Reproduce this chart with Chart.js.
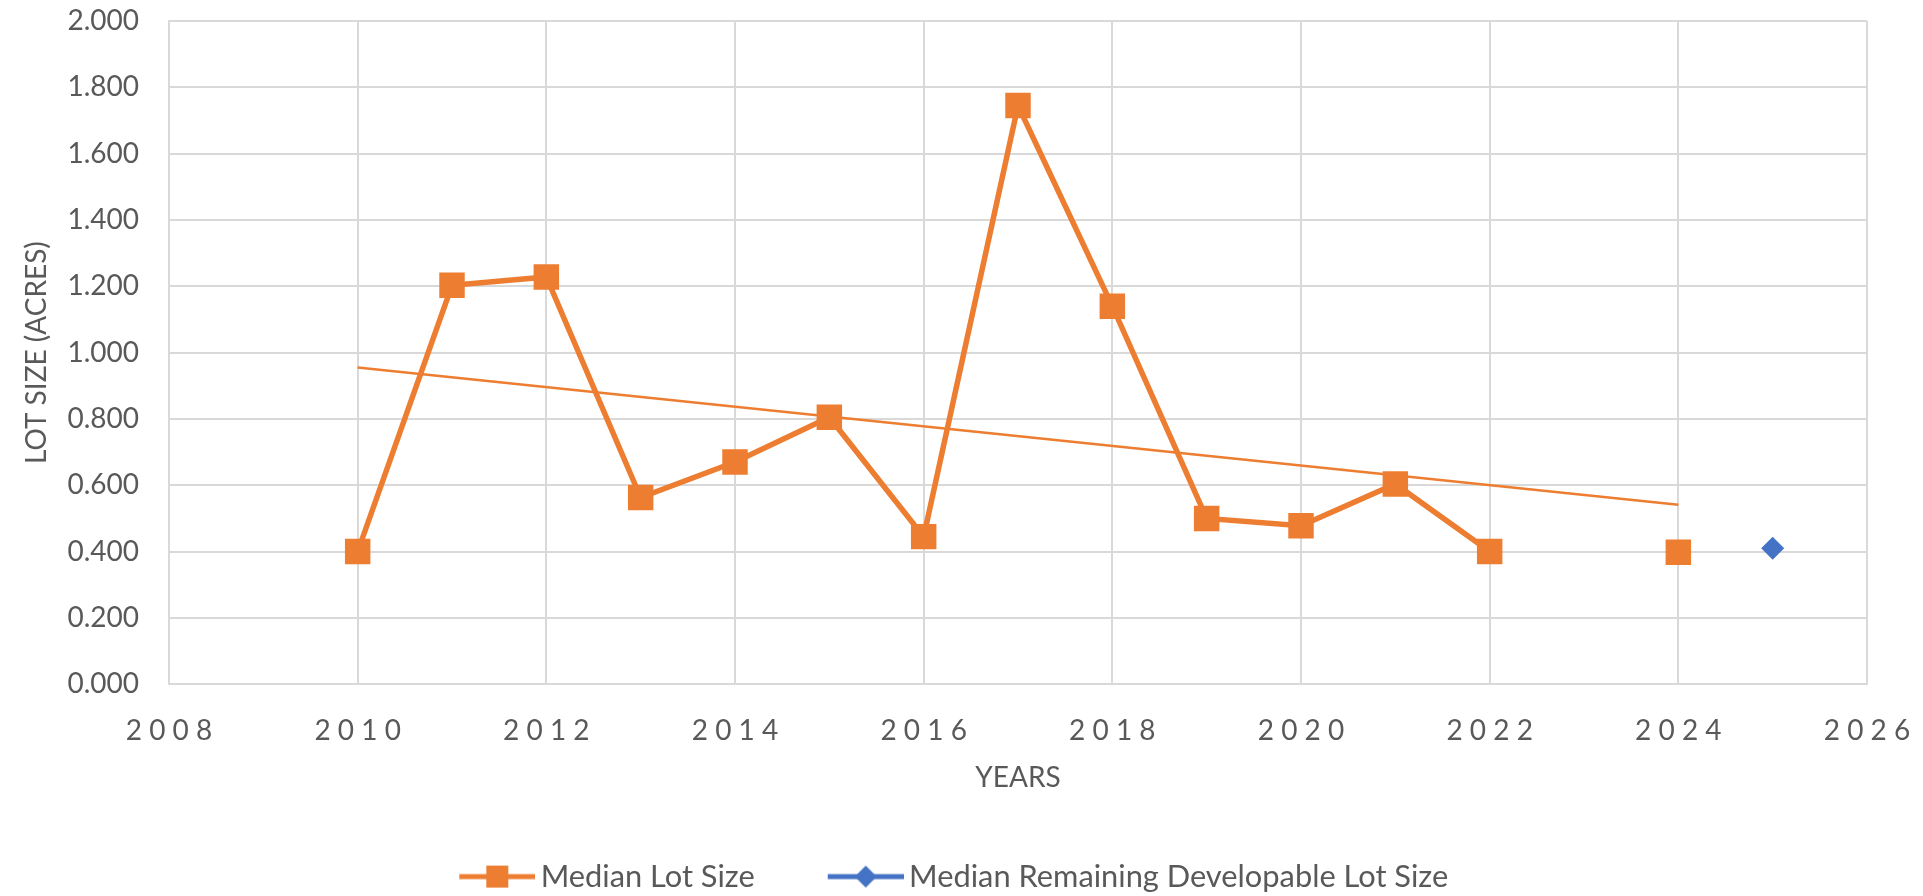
<!DOCTYPE html>
<html>
<head>
<meta charset="utf-8">
<script src="https://cdn.jsdelivr.net/npm/chart.js@4.4.1/dist/chart.umd.min.js"></script>
<style>
  html, body { margin: 0; padding: 0; background: #fff; }
  #wrap { width: 1923px; height: 896px; }
</style>
</head>
<body>
<div id="wrap"><canvas id="chart-lots"></canvas></div>
<script>
const years = [2010, 2011, 2012, 2013, 2014, 2015, 2016, 2017, 2018, 2019, 2020, 2021, 2022, 2023, 2024];
const lotSize = [0.400, 1.203, 1.228, 0.563, 0.670, 0.805, 0.445, 1.745, 1.140, 0.500, 0.478, 0.604, 0.400, null, 0.398];

const remainingYears = [2025];
const remainingLotSize = [0.410];

// trendline end points
const trendYears = [2010, 2024];
const trendValues = [0.955, 0.541];

const xTicks = { min: 2008, max: 2026, step: 2 };
const yTicks = { min: 0, max: 2, step: 0.2 };

const orange = '#ED7D31';
const blue = '#4472C4';
const grey = '#595959';
const gridGrey = '#D9D9D9';
const fontName = 'Lato, "Liberation Sans", sans-serif';

const toPoints = (xs, ys) => xs.map((x, i) => ({ x: x, y: ys[i] }));

// legend icons: line with a marker on it (drawn to the right of a wide, mostly empty box)
const iconBox = 138;
function legendIcon(color, shape) {
    const c = document.createElement('canvas');
    c.width = iconBox + 20;
    c.height = 30;
    const ctx = c.getContext('2d');
    ctx.strokeStyle = color;
    ctx.fillStyle = color;
    ctx.lineWidth = 5;
    ctx.beginPath();
    ctx.moveTo(c.width - 76, 15);
    ctx.lineTo(c.width, 15);
    ctx.stroke();
    const cx = c.width - 38;
    ctx.beginPath();
    if (shape === 'square') {
        ctx.rect(cx - 11, 4, 22, 22);
    } else {
        ctx.moveTo(cx, 4);
        ctx.lineTo(cx + 11, 15);
        ctx.lineTo(cx, 26);
        ctx.lineTo(cx - 11, 15);
        ctx.closePath();
    }
    ctx.fill();
    return c;
}

const icons = [legendIcon(orange, 'square'), legendIcon(blue, 'diamond')];
// extra room after the last legend entry keeps the row centred like the original
const legendTail = ['', '    '];

const data = {
    datasets: [{
        label: 'Median Lot Size',
        data: toPoints(years, lotSize),
        borderColor: orange,
        backgroundColor: orange,
        borderWidth: 5.5,
        pointStyle: 'rect',
        pointRadius: 18,
        pointBorderWidth: 0,
        spanGaps: false,
        order: 1
    }, {
        label: 'Median Remaining Developable Lot Size',
        data: toPoints(remainingYears, remainingLotSize),
        borderColor: blue,
        backgroundColor: blue,
        borderWidth: 5,
        pointStyle: 'rectRot',
        pointRadius: 11.5,
        pointBorderWidth: 0,
        showLine: false,
        order: 0
    }, {
        label: 'trend',
        data: toPoints(trendYears, trendValues),
        borderColor: orange,
        borderWidth: 2.5,
        pointRadius: 0,
        order: 2
    }]
};

const config = {
    type: 'line',
    data: data,
    options: {
        responsive: true,
        maintainAspectRatio: false,
        animation: false,
        layout: { padding: { top: 21, right: 56, bottom: -6, left: 0 } },
        plugins: {
            tooltip: { enabled: false },
            legend: {
                position: 'bottom',
                labels: {
                    usePointStyle: true,
                    pointStyleWidth: iconBox,
                    padding: 1,
                    color: grey,
                    font: { family: fontName, size: 30.8 },
                    generateLabels: (chart) => chart.data.datasets.slice(0, 2).map((ds, i) => ({
                        text: ds.label + legendTail[i],
                        pointStyle: icons[i],
                        fontColor: grey,
                        datasetIndex: i,
                        hidden: false,
                        lineWidth: 0
                    }))
                }
            }
        },
        scales: {
            x: {
                type: 'linear',
                min: xTicks.min,
                max: xTicks.max,
                afterFit: (scale) => {
                    scale.height = 176;
                    scale.paddingLeft = 0;
                    scale.paddingRight = 0;
                },
                grid: { color: gridGrey, lineWidth: 2, drawTicks: false },
                border: { color: gridGrey, width: 2 },
                ticks: {
                    stepSize: xTicks.step,
                    padding: 30,
                    color: grey,
                    font: { family: fontName, size: 28 },
                    callback: (v) => String(v).split('').join(' ')
                },
                title: {
                    display: true,
                    text: 'YEARS',
                    color: grey,
                    font: { family: fontName, size: 28 },
                    padding: { top: 0, bottom: 65 }
                }
            },
            y: {
                min: yTicks.min,
                max: yTicks.max,
                afterFit: (scale) => {
                    scale.width = 169;
                    scale.paddingTop = 0;
                    scale.paddingBottom = 0;
                },
                grid: { color: gridGrey, lineWidth: 2, drawTicks: false },
                border: { color: gridGrey, width: 2 },
                ticks: {
                    stepSize: yTicks.step,
                    padding: 30,
                    color: grey,
                    font: { family: fontName, size: 28 },
                    callback: (v) => v.toFixed(3)
                },
                title: {
                    display: true,
                    text: 'LOT SIZE (ACRES)',
                    color: grey,
                    font: { family: fontName, size: 28 },
                    padding: { top: 20, bottom: 0 }
                }
            }
        }
    }
};

const lotChart = new Chart(document.getElementById('chart-lots'), config);
</script>
</body>
</html>
